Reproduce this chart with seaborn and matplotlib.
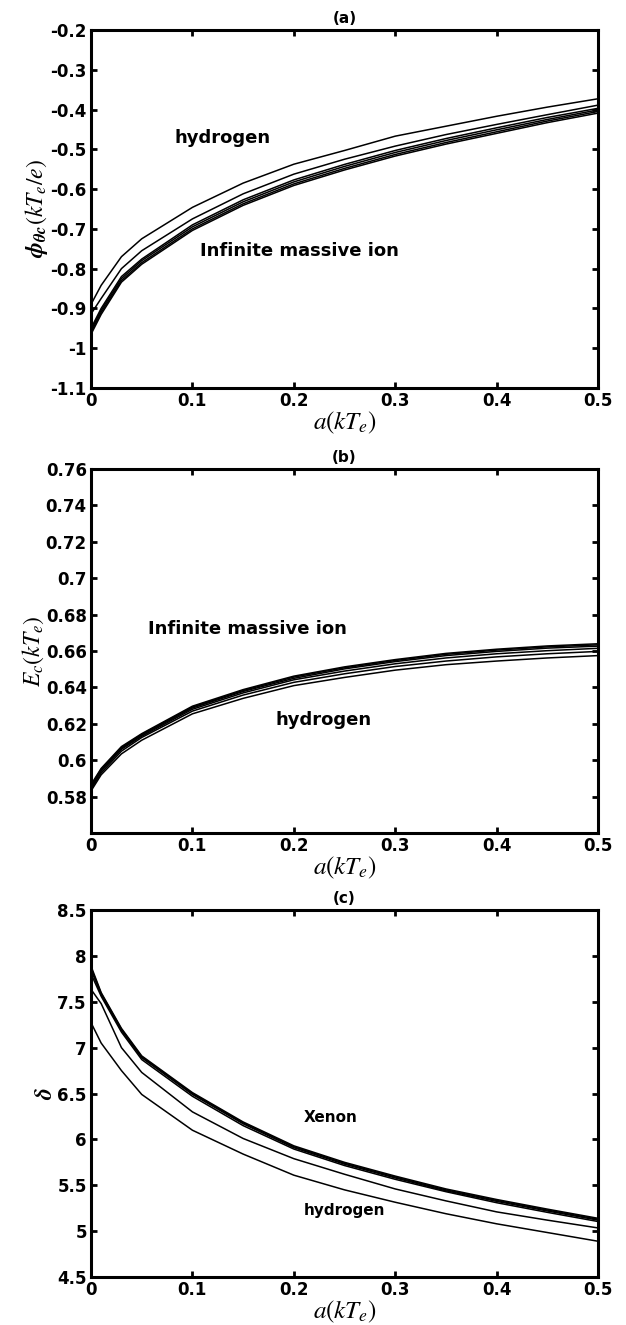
import matplotlib
matplotlib.use('Agg')
import pandas as pd
import matplotlib.pyplot as plt
import seaborn as sns

sns.set_style('ticks')
plt.rcParams['font.family'] = ['DejaVu Sans']
plt.rcParams['mathtext.fontset'] = 'stix'
plt.rcParams['axes.unicode_minus'] = False
plt.rcParams['text.color'] = 'black'
plt.rcParams['axes.labelcolor'] = 'black'
plt.rcParams['xtick.color'] = 'black'
plt.rcParams['ytick.color'] = 'black'

# normalised temperature values a(kT_e) where the curves were evaluated
a_vals = [0, 0.001, 0.01, 0.03, 0.05, 0.1, 0.15, 0.2, 0.25, 0.3, 0.35, 0.4, 0.45, 0.5]
ions = ['hydrogen', 'helium', 'neon', 'argon', 'krypton', 'heavy']

# (a) potential at the cathode, phi_0c (kT_e/e)
phi_hydrogen = [-0.92, -0.885, -0.842, -0.77, -0.725, -0.646, -0.585, -0.5375, -0.503, -0.467, -0.442, -0.417, -0.394, -0.373]
phi_helium = [-0.95, -0.91, -0.875, -0.80, -0.755, -0.675, -0.612, -0.5625, -0.525, -0.492, -0.463, -0.4375, -0.413, -0.389]
phi_neon = [-0.98, -0.945, -0.90, -0.82, -0.776, -0.690, -0.627, -0.577, -0.538, -0.503, -0.473, -0.446, -0.420, -0.397]
phi_argon = [-0.99, -0.95, -0.905, -0.825, -0.78, -0.695, -0.632, -0.582, -0.543, -0.508, -0.478, -0.451, -0.425, -0.401]
phi_krypton = [-1.0, -0.955, -0.91, -0.83, -0.785, -0.700, -0.637, -0.587, -0.548, -0.513, -0.483, -0.456, -0.429, -0.405]
phi_heavy = [-1.0, -0.96, -0.915, -0.834, -0.789, -0.704, -0.641, -0.591, -0.552, -0.517, -0.487, -0.460, -0.433, -0.409]

# (b) field at the cathode, E_c (kT_e)
e_hydrogen = [0.578, 0.584, 0.592, 0.6035, 0.611, 0.6255, 0.634, 0.641, 0.6455, 0.6495, 0.6525, 0.6545, 0.6562, 0.6575]
e_helium = [0.578, 0.585, 0.593, 0.605, 0.6125, 0.627, 0.6358, 0.6428, 0.6475, 0.6515, 0.6545, 0.6568, 0.6585, 0.6598]
e_neon = [0.579, 0.586, 0.594, 0.606, 0.6132, 0.628, 0.637, 0.6442, 0.649, 0.653, 0.6562, 0.6585, 0.6602, 0.6615]
e_argon = [0.579, 0.586, 0.5945, 0.6065, 0.6138, 0.6287, 0.6378, 0.645, 0.6502, 0.6542, 0.6575, 0.6598, 0.6616, 0.6627]
e_krypton = [0.58, 0.587, 0.595, 0.607, 0.6142, 0.6292, 0.6383, 0.6457, 0.6508, 0.6548, 0.6582, 0.6605, 0.6623, 0.6634]
e_heavy = [0.58, 0.5875, 0.5955, 0.6075, 0.6146, 0.6297, 0.6388, 0.6462, 0.6513, 0.6553, 0.6587, 0.661, 0.6628, 0.664]

# (c) sheath thickness delta
d_hydrogen = [7.45, 7.25, 7.05, 6.75, 6.49, 6.10, 5.84, 5.61, 5.45, 5.315, 5.19, 5.08, 4.985, 4.89]
d_helium = [7.75, 7.62, 7.48, 7.0, 6.73, 6.30, 6.01, 5.79, 5.62, 5.46, 5.33, 5.21, 5.12, 5.035]
d_neon = [7.95, 7.78, 7.56, 7.17, 6.87, 6.47, 6.15, 5.895, 5.715, 5.565, 5.43, 5.31, 5.205, 5.105]
d_argon = [8.0, 7.82, 7.58, 7.19, 6.89, 6.49, 6.17, 5.91, 5.73, 5.58, 5.44, 5.325, 5.22, 5.12]
d_krypton = [8.05, 7.84, 7.59, 7.2, 6.9, 6.5, 6.18, 5.92, 5.74, 5.59, 5.45, 5.335, 5.23, 5.13]
d_xenon = [8.1, 7.86, 7.6, 7.21, 6.91, 6.51, 6.19, 5.93, 5.75, 5.6, 5.46, 5.345, 5.24, 5.14]

phi_ticks = [-1.1, -1.0, -0.9, -0.8, -0.7, -0.6, -0.5, -0.4, -0.3, -0.2]
e_ticks = [0.58, 0.6, 0.62, 0.64, 0.66, 0.68, 0.7, 0.72, 0.74, 0.76]
d_ticks = [4.5, 5, 5.5, 6, 6.5, 7, 7.5, 8, 8.5]
a_ticks = [0, 0.1, 0.2, 0.3, 0.4, 0.5]


def to_long(curves):
    rows = []
    for ion, vals in zip(ions, curves):
        for a, v in zip(a_vals, vals):
            rows.append({'a': a, 'v': v, 'ion': ion})
    return pd.DataFrame(rows)


def style_axis(ax, yticks, ylim, ylabel, title):
    ax.set_xlim(0, 0.5)
    ax.set_ylim(*ylim)
    ax.set_xticks(a_ticks)
    ax.set_xticklabels([f'{t:g}' for t in a_ticks], fontweight='bold')
    ax.set_yticks(yticks)
    ax.set_yticklabels([f'{t:g}' for t in yticks], fontweight='bold')
    ax.tick_params(direction='in', top=True, right=True, length=4, width=2,
                   labelsize=12, pad=3, colors='black')
    for sp in ax.spines.values():
        sp.set_visible(True)
        sp.set_linewidth(2.2)
        sp.set_color('black')
    ax.set_xlabel(r'$a(kT_e)$', fontsize=18, labelpad=0)
    ax.set_ylabel(ylabel, fontsize=17, labelpad=0)
    ax.set_title(title, fontsize=11, fontweight='bold', pad=5)


fig = plt.figure(figsize=(6.26, 13.25), dpi=100)
ax_a = fig.add_axes([0.1454, 0.7072, 0.810, 0.2702])
ax_b = fig.add_axes([0.1454, 0.3713, 0.810, 0.2747])
ax_c = fig.add_axes([0.1454, 0.0362, 0.810, 0.2770])

black = ['black'] * len(ions)

df_a = to_long([phi_hydrogen, phi_helium, phi_neon, phi_argon, phi_krypton, phi_heavy])
sns.lineplot(data=df_a, x='a', y='v', hue='ion', palette=black, legend=False,
             estimator=None, sort=False, linewidth=1.1, ax=ax_a)
style_axis(ax_a, phi_ticks, (-1.1, -0.2), r'$\boldsymbol{\phi}_{\boldsymbol{\theta c}}(kT_e/e)$', '(a)')
ax_a.text(0.082, -0.4715, 'hydrogen', fontsize=13, fontweight='bold', va='center')
ax_a.text(0.1075, -0.755, 'Infinite massive ion', fontsize=13, fontweight='bold', va='center')

df_b = to_long([e_hydrogen, e_helium, e_neon, e_argon, e_krypton, e_heavy])
sns.lineplot(data=df_b, x='a', y='v', hue='ion', palette=black, legend=False,
             estimator=None, sort=False, linewidth=1.1, ax=ax_b)
style_axis(ax_b, e_ticks, (0.56, 0.76), r'$E_c(kT_e)$', '(b)')
ax_b.text(0.056, 0.672, 'Infinite massive ion', fontsize=13, fontweight='bold', va='center')
ax_b.text(0.1824, 0.622, 'hydrogen', fontsize=13, fontweight='bold', va='center')

df_c = to_long([d_hydrogen, d_helium, d_neon, d_argon, d_krypton, d_xenon])
sns.lineplot(data=df_c, x='a', y='v', hue='ion', palette=black, legend=False,
             estimator=None, sort=False, linewidth=1.1, ax=ax_c)
style_axis(ax_c, d_ticks, (4.5, 8.5), r'$\boldsymbol{\delta}$', '(c)')
ax_c.text(0.21, 6.244, 'Xenon', fontsize=11, fontweight='bold', va='center')
ax_c.text(0.21, 5.23, 'hydrogen', fontsize=11, fontweight='bold', va='center')

fig.savefig('out.png', dpi=100)
